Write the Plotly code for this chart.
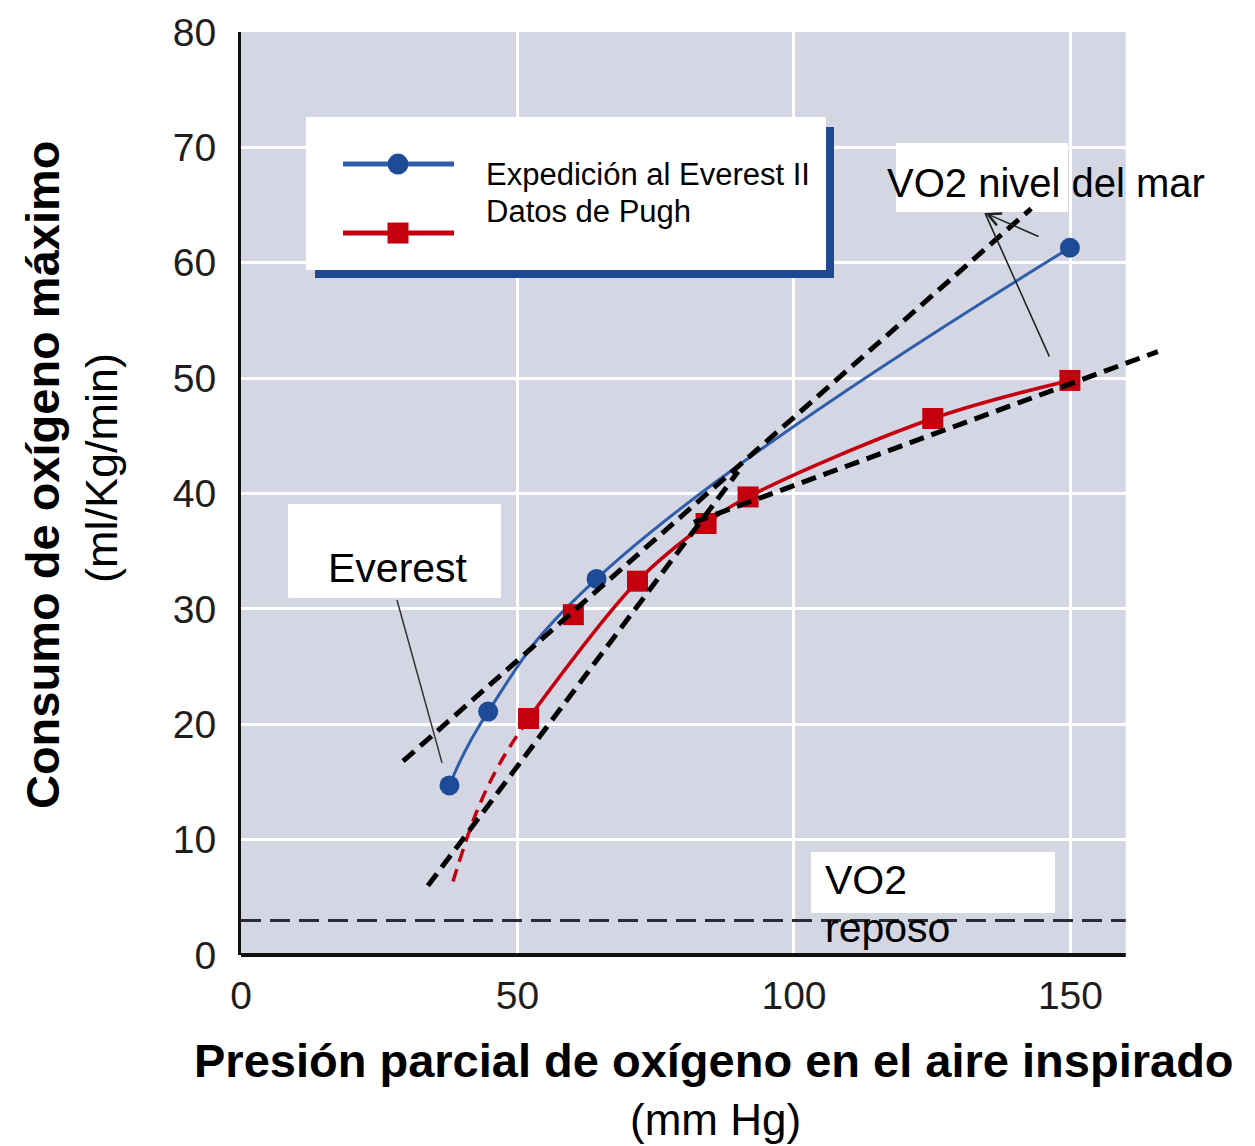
import plotly.graph_objects as go

# ---------------- data ----------------
everest_x = [37.7, 44.7, 64.3, 149.9]
everest_y = [14.7, 21.1, 32.6, 61.3]

# all Pugh data points (markers)
pugh_x = [52.0, 60.1, 71.7, 84.1, 91.7, 125.1, 149.9]
pugh_y = [20.5, 29.5, 32.4, 37.4, 39.7, 46.5, 49.8]
# points joined by the fitted red curve
pugh_curve_x = [52.0, 71.7, 84.1, 91.7, 125.1, 149.9]
pugh_curve_y = [20.5, 32.4, 37.4, 39.7, 46.5, 49.8]

pugh_ext_x = [52.0, 46.8, 42.6, 38.1]
pugh_ext_y = [20.5, 16.6, 12.4, 6.0]

tangent1_x = [29.3, 142.9]
tangent1_y = [16.8, 64.7]
tangent2_x = [33.8, 89.9]
tangent2_y = [6.0, 41.9]
tangent3_x = [81.9, 165.8]
tangent3_y = [37.5, 52.3]

reposo_x = [0, 160]
reposo_y = [3.0, 3.0]

x_ticks = [0, 50, 100, 150]
y_ticks = [0, 10, 20, 30, 40, 50, 60, 70, 80]

# ---------------- style ----------------
FONT = "Liberation Sans, Arial, sans-serif"
BLUE = "#1d4b98"
BLUE_LINE = "#2e5eaa"
RED = "#c4000f"
BG = "#d4d7e3"

fig = go.Figure()

fig.add_trace(go.Scatter(x=reposo_x, y=reposo_y, mode="lines",
                         line=dict(color="#2b2b38", width=3, dash="20px,9px"),
                         hoverinfo="skip", showlegend=False))

fig.add_trace(go.Scatter(x=everest_x, y=everest_y, mode="lines+markers",
                         line=dict(color=BLUE_LINE, width=3, shape="spline", smoothing=1.3),
                         marker=dict(color=BLUE, size=20, symbol="circle"),
                         name="Expedición al Everest II", showlegend=False))

fig.add_trace(go.Scatter(x=pugh_ext_x, y=pugh_ext_y, mode="lines",
                         line=dict(color=RED, width=3.5, shape="spline", dash="13px,8px"),
                         hoverinfo="skip", showlegend=False))

fig.add_trace(go.Scatter(x=pugh_curve_x, y=pugh_curve_y, mode="lines",
                         line=dict(color=RED, width=3.5, shape="spline", smoothing=1.0),
                         hoverinfo="skip", showlegend=False))

fig.add_trace(go.Scatter(x=pugh_x, y=pugh_y, mode="markers",
                         marker=dict(color=RED, size=21, symbol="square"),
                         name="Datos de Pugh", showlegend=False))

for tx, ty in [(tangent1_x, tangent1_y), (tangent2_x, tangent2_y), (tangent3_x, tangent3_y)]:
    fig.add_trace(go.Scatter(x=tx, y=ty, mode="lines",
                             line=dict(color="black", width=5, dash="15px,8px"),
                             hoverinfo="skip", showlegend=False))

# ---------------- background & boxes ----------------
shapes = []
shapes.append(dict(type="rect", xref="x", yref="y", x0=0, x1=160, y0=0, y1=80,
                   fillcolor=BG, line=dict(width=0), layer="below"))
shapes.append(dict(type="rect", xref="x", yref="y", x0=13.38, x1=107.24, y0=58.68, y1=71.77,
                   fillcolor="#1f4a93", line=dict(width=0), layer="between"))
shapes.append(dict(type="rect", xref="x", yref="y", x0=11.75, x1=105.79, y0=59.37, y1=72.63,
                   fillcolor="white", line=dict(width=0), layer="between"))
shapes.append(dict(type="rect", xref="x", yref="y", x0=8.50, x1=47.02, y0=30.94, y1=39.09,
                   fillcolor="white", line=dict(width=0), layer="between"))
shapes.append(dict(type="rect", xref="x", yref="y", x0=118.45, x1=149.55, y0=64.40, y1=70.38,
                   fillcolor="white", line=dict(width=0), layer="between"))
shapes.append(dict(type="rect", xref="x", yref="y", x0=103.08, x1=147.20, y0=3.64, y1=8.93,
                   fillcolor="white", line=dict(width=0), layer="between"))
shapes.append(dict(type="line", xref="x", yref="paper", x0=0, x1=160, y0=0, y1=0,
                   line=dict(color="#111111", width=4), layer="above"))
# legend glyphs
shapes.append(dict(type="line", xref="paper", yref="paper", x0=0.1098, x1=0.2293,
                   y0=0.8569, y1=0.8569, line=dict(color=BLUE_LINE, width=5), layer="above"))
shapes.append(dict(type="circle", xref="paper", yref="paper", xsizemode="pixel", ysizemode="pixel",
                   xanchor=0.1690, yanchor=0.8569, x0=-10.5, x1=10.5, y0=-10.5, y1=10.5,
                   fillcolor=BLUE, line=dict(width=0), layer="above"))
shapes.append(dict(type="line", xref="paper", yref="paper", x0=0.1098, x1=0.2293,
                   y0=0.7822, y1=0.7822, line=dict(color=RED, width=5), layer="above"))
shapes.append(dict(type="rect", xref="paper", yref="paper", xsizemode="pixel", ysizemode="pixel",
                   xanchor=0.1690, yanchor=0.7822, x0=-10.5, x1=10.5, y0=-10.5, y1=10.5,
                   fillcolor=RED, line=dict(width=0), layer="above"))
shapes.append(dict(type="line", xref="paper", yref="paper", x0=0.1679, y0=0.3846, x1=0.2164, y1=0.2081,
                   line=dict(color="#333333", width=1.5), layer="above"))

annotations = [
    dict(text="Expedición al Everest II", x=0.2616, y=0.8451, xref="paper", yref="paper",
         xanchor="left", yanchor="middle", showarrow=False, font=dict(size=31, color="black", family=FONT)),
    dict(text="Datos de Pugh", x=0.2616, y=0.8050, xref="paper", yref="paper",
         xanchor="left", yanchor="middle", showarrow=False, font=dict(size=31, color="black", family=FONT)),
    dict(text="Everest", x=0.1685, y=0.4193, xref="paper", yref="paper",
         xanchor="center", yanchor="middle", showarrow=False, font=dict(size=41, color="black", family=FONT)),
    dict(text="VO2 nivel del mar", x=0.6932, y=0.8364, xref="paper", yref="paper",
         xanchor="left", yanchor="middle", showarrow=False, font=dict(size=40, color="black", family=FONT)),
    dict(text="", x=0.8009, y=0.8038, xref="paper", yref="paper", showarrow=True,
         ax=55, ay=24, arrowhead=5, arrowsize=1.6, arrowwidth=1.6, arrowcolor="#222222"),
    dict(text="", x=0.8009, y=0.8038, xref="paper", yref="paper", showarrow=True,
         ax=65, ay=145, arrowhead=0, arrowwidth=1.6, arrowcolor="#222222"),
    dict(text="VO2", x=0.6265, y=0.0812, xref="paper", yref="paper",
         xanchor="left", yanchor="middle", showarrow=False, font=dict(size=41, color="black", family=FONT)),
    dict(text="reposo", x=0.6265, y=0.0292, xref="paper", yref="paper",
         xanchor="left", yanchor="middle", showarrow=False, font=dict(size=41, color="black", family=FONT)),
    dict(text="<b>Consumo de oxígeno máximo</b>", x=-0.2142, y=0.5200, xref="paper", yref="paper",
         textangle=-90, xanchor="center", yanchor="middle", showarrow=False,
         font=dict(size=47, color="black", family=FONT)),
    dict(text="(ml/Kg/min)", x=-0.1496, y=0.5277, xref="paper", yref="paper",
         textangle=-90, xanchor="center", yanchor="middle", showarrow=False,
         font=dict(size=45, color="black", family=FONT)),
    dict(text="<b>Presión parcial de oxígeno en el aire inspirado</b>", x=0.5091, y=-0.1138,
         xref="paper", yref="paper", xanchor="center", yanchor="middle", showarrow=False,
         font=dict(size=47, color="black", family=FONT)),
    dict(text="(mm Hg)", x=0.5113, y=-0.1787, xref="paper", yref="paper",
         xanchor="center", yanchor="middle", showarrow=False,
         font=dict(size=44, color="black", family=FONT)),
]

fig.update_layout(
    width=1247, height=1138,
    margin=dict(l=233, r=85, t=24, b=191, autoexpand=False),
    paper_bgcolor="white",
    plot_bgcolor="rgba(0,0,0,0)",
    font=dict(family=FONT, color="#1e1e1e"),
    shapes=shapes,
    annotations=annotations,
    showlegend=False,
    xaxis=dict(range=[0, 168], tickvals=x_ticks, ticktext=[str(v) for v in x_ticks],
               showgrid=True, gridcolor="white", gridwidth=3, zeroline=False, automargin=False,
               showline=False, ticks="", ticklabelstandoff=14,
               tickfont=dict(size=39, family=FONT, color="#1e1e1e")),
    yaxis=dict(range=[0, 80], tickvals=y_ticks, ticktext=[str(v) for v in y_ticks],
               showgrid=True, gridcolor="white", gridwidth=3, zeroline=False, automargin=False,
               showline=True, linecolor="#111111", linewidth=3, ticks="", ticklabelstandoff=14,
               ticklabeloverflow="allow",
               tickfont=dict(size=39, family=FONT, color="#1e1e1e")),
)

fig.write_html("out.html")
